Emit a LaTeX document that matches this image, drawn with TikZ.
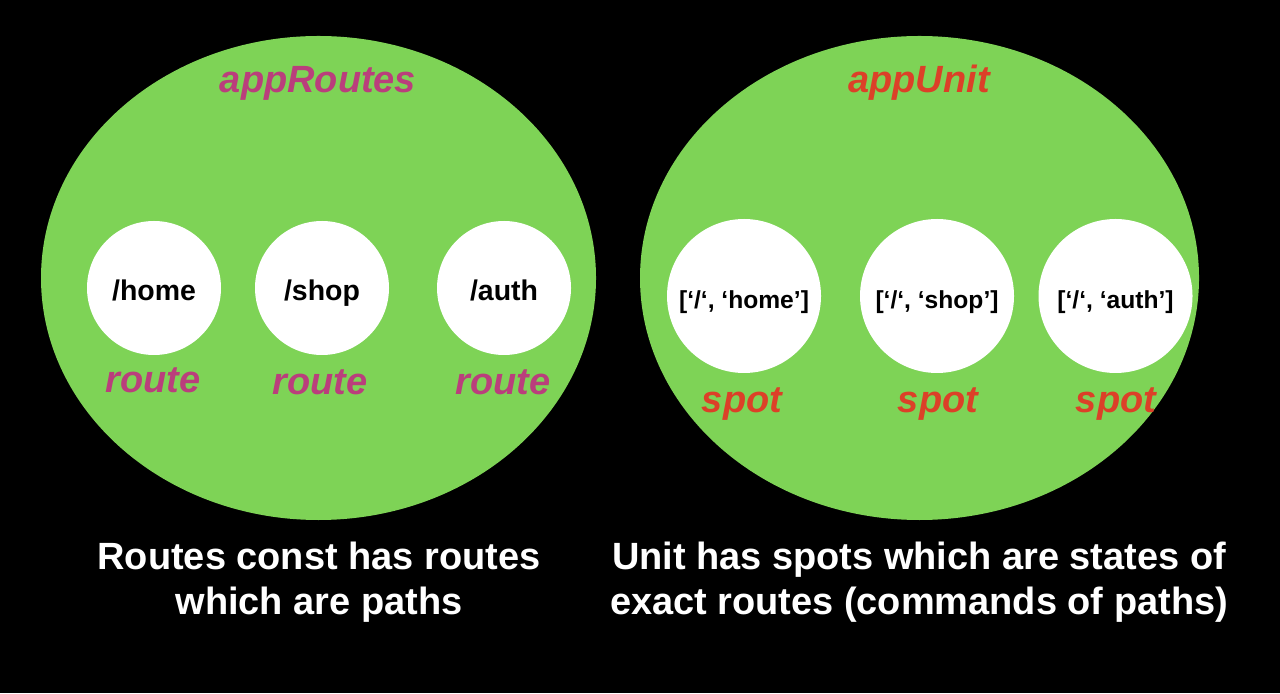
\documentclass[tikz,border=0pt]{standalone}
\usepackage{fontspec}
\setmainfont{Liberation Sans}
\definecolor{setgreen}{RGB}{126,211,86}
\definecolor{routepink}{RGB}{186,62,124}
\definecolor{spotred}{RGB}{220,64,40}
\begin{document}
\begin{tikzpicture}[
    pathdot/.style={circle, fill=white, inner sep=0pt, minimum size=1.34cm,
        text height=1.6ex, text depth=0.3ex, font=\fontsize{8.1}{9}\selectfont\bfseries},
    cmddot/.style={circle, fill=white, inner sep=0pt, minimum size=1.54cm,
        text height=1.6ex, text depth=0.3ex, font=\fontsize{7}{8}\selectfont\bfseries},
    tag/.style={text height=1.6ex, text depth=0.4ex, font=\fontsize{10.8}{12}\selectfont\bfseries\itshape},
    caption/.style={text=white, align=center, font=\fontsize{10.8}{12.8}\selectfont\bfseries}
]
                    \fill[black] (0,0) rectangle (12.8,6.93);
                    \useasboundingbox (0,0) rectangle (12.8,6.93);

                    \fill[setgreen] (3.185,4.15) ellipse [x radius=2.775, y radius=2.42];
                    \fill[setgreen] (9.195,4.15) ellipse [x radius=2.795, y radius=2.42];

                    \node[tag, text=routepink] (routesname) at (3.18,6.12) {appRoutes};
                    \node[tag, text=spotred] (unitname) at (9.19,6.12) {appUnit};

                    \node[pathdot] (home) at (1.54,4.05) {/home};
                    \node[pathdot] (shop) at (3.22,4.05) {/shop};
                    \node[pathdot] (auth) at (5.04,4.05) {/auth};

                    \node[tag, text=routepink] (route1) at (1.53,3.12) {route};
                    \node[tag, text=routepink] (route2) at (3.20,3.10) {route};
                    \node[tag, text=routepink] (route3) at (5.03,3.10) {route};

                    \node[cmddot] (homespot) at (7.44,3.97) {[‘/‘, ‘home’]};
                    \node[cmddot] (shopspot) at (9.37,3.97) {[‘/‘, ‘shop’]};
                    \node[cmddot] (authspot) at (11.155,3.97) {[‘/‘, ‘auth’]};

                    \node[tag, text=spotred] (spot1) at (7.42,2.92) {spot};
                    \node[tag, text=spotred] (spot2) at (9.38,2.92) {spot};
                    \node[tag, text=spotred] (spot3) at (11.16,2.92) {spot};

                    \node[caption] (routestext) at (3.19,1.11) {Routes const has routes\\which are paths};
                    \node[caption] (unittext) at (9.19,1.11) {Unit has spots which are states of\\exact routes (commands of paths)};
                \end{tikzpicture}
\end{document}
